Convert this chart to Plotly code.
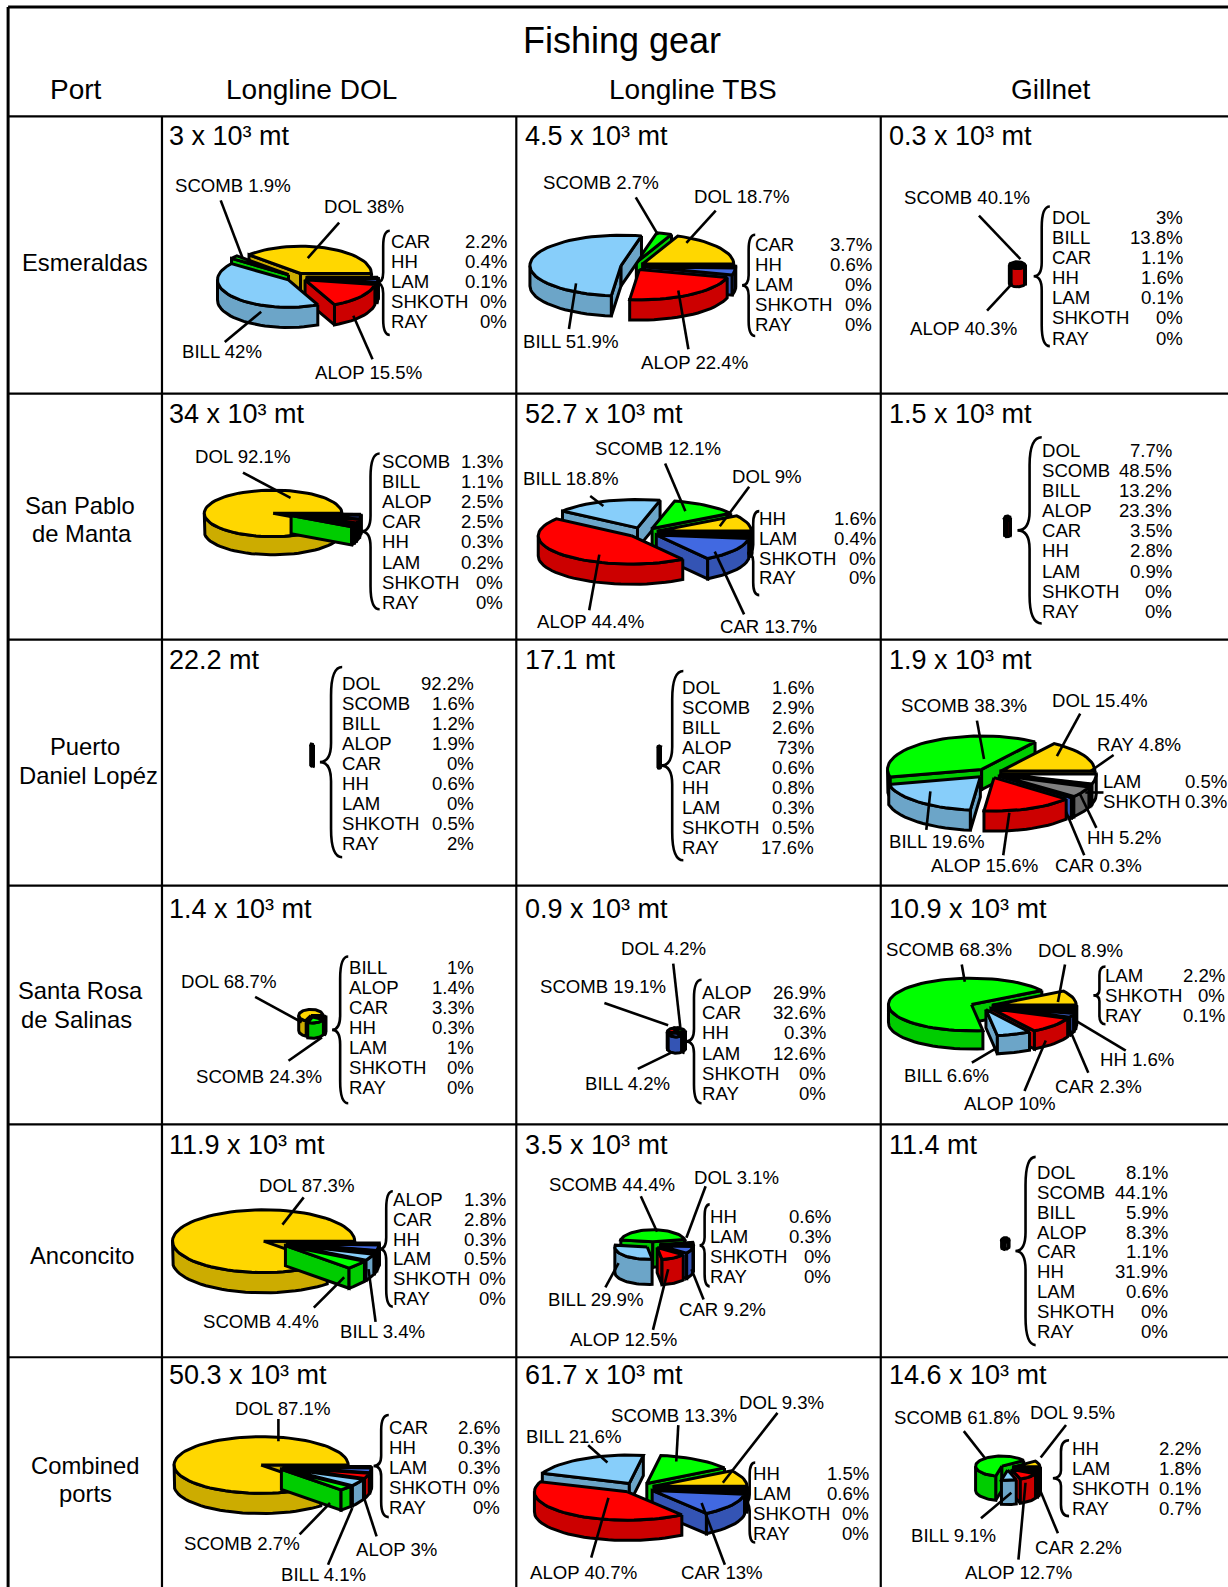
import math
import plotly.graph_objects as go

SPECIES = ["DOL", "SCOMB", "BILL", "ALOP", "CAR", "HH", "LAM", "SHKOTH", "RAY"]
GEARS = ["Longline DOL", "Longline TBS", "Gillnet"]
PORT_LINES = ["Esmeraldas", "San Pablo", "de Manta", "Puerto", "Daniel Lopéz", "Santa Rosa", "de Salinas", "Anconcito", "Combined", "ports"]

# percent catch by species, one row per port
LONGLINE_DOL = [
    [38, 1.9, 42, 15.5, 2.2, 0.4, 0.1, 0, 0],
    [92.1, 1.3, 1.1, 2.5, 2.5, 0.3, 0.2, 0, 0],
    [92.2, 1.6, 1.2, 1.9, 0, 0.6, 0, 0.5, 2],
    [68.7, 24.3, 1, 1.4, 3.3, 0.3, 1, 0, 0],
    [87.3, 4.4, 3.4, 1.3, 2.8, 0.3, 0.5, 0, 0],
    [87.1, 2.7, 4.1, 3, 2.6, 0.3, 0.3, 0, 0],
]
LONGLINE_TBS = [
    [18.7, 2.7, 51.9, 22.4, 3.7, 0.6, 0, 0, 0],
    [9, 12.1, 18.8, 44.4, 13.7, 1.6, 0.4, 0, 0],
    [1.6, 2.9, 2.6, 73, 0.6, 0.8, 0.3, 0.5, 17.6],
    [4.2, 19.1, 4.2, 26.9, 32.6, 0.3, 12.6, 0, 0],
    [3.1, 44.4, 29.9, 12.5, 9.2, 0.6, 0.3, 0, 0],
    [9.3, 13.3, 21.6, 40.7, 13, 1.5, 0.6, 0, 0],
]
GILLNET = [
    [3, 40.1, 13.8, 40.3, 1.1, 1.6, 0.1, 0, 0],
    [7.7, 48.5, 13.2, 23.3, 3.5, 2.8, 0.9, 0, 0],
    [15.4, 38.3, 19.6, 15.6, 0.3, 5.2, 0.5, 0.3, 4.8],
    [8.9, 68.3, 6.6, 10, 2.3, 1.6, 2.2, 0, 0.1],
    [8.1, 44.1, 5.9, 8.3, 1.1, 31.9, 0.6, 0, 0],
    [9.5, 61.8, 9.1, 12.7, 2.2, 2.2, 1.8, 0.1, 0.7],
]
TOTALS = [
    ["3 x 10³ mt", "4.5 x 10³ mt", "0.3 x 10³ mt"],
    ["34 x 10³ mt", "52.7 x 10³ mt", "1.5 x 10³ mt"],
    ["22.2 mt", "17.1 mt", "1.9 x 10³ mt"],
    ["1.4 x 10³ mt", "0.9 x 10³ mt", "10.9 x 10³ mt"],
    ["11.9 x 10³ mt", "3.5 x 10³ mt", "11.4 mt"],
    ["50.3 x 10³ mt", "61.7 x 10³ mt", "14.6 x 10³ mt"],
]
VALUES = [LONGLINE_DOL, LONGLINE_TBS, GILLNET]

# ---------- styling and placement (separate from data) ----------
TOP = {"DOL": "#FFD700", "SCOMB": "#00FF00", "BILL": "#87CEFA", "ALOP": "#FF0000", "CAR": "#4169E1",
       "HH": "#808080", "LAM": "#000000", "SHKOTH": "#000000", "RAY": "#FFFFFF"}
SIDE = {"DOL": "#CCAC00", "SCOMB": "#00CC00", "BILL": "#6CA5C8", "ALOP": "#CC0000", "CAR": "#3454B4",
        "HH": "#666666", "LAM": "#000000", "SHKOTH": "#000000", "RAY": "#CCCCCC"}
COL_X = [8, 160, 510, 870]
ROW_Y = [7, 115, 389, 632, 875, 1111, 1341]
TITLE_X = [166, 518, 877]
TITLE_Y = [134, 409, 652, 898, 1131, 1359]
PORT_POS = [(84, 259), (79, 499), (81, 527), (84, 738), (87, 766), (80, 979), (76, 1007), (81, 1240), (84, 1448), (84, 1476)]
LABEL_SIZE = 18.6
PIE_LINE = 3.0

# pie geometry per (row, col): cx, cy, rx, ry, depth, explode
PIES = {
    (0, 0): (293, 274, 70, 27, 20, .15), (0, 1): (625, 263, 90, 30, 20, .13), (0, 2): (1005, 262, 7, 3, 18, .14),
    (1, 0): (279, 508, 68, 23, 18, .14), (1, 1): (635, 526, 92, 28, 20, .17), (1, 2): (995, 512, 2.5, 2, 16, .14),
    (2, 0): (308, 736, 1, 1, 20, .1), (2, 1): (651, 738, 1, 1, 20, .1), (2, 2): (977, 764, 93, 33, 20, .14),
    (3, 0): (308, 1004, 12, 6, 15, .14), (3, 1): (668, 1020, 8, 4, 16, .14), (3, 2): (970, 994, 82, 26, 18, .14),
    (4, 0): (272, 1228, 90, 31, 20, .14), (4, 1): (645, 1230, 32, 12, 25, .25), (4, 2): (993, 1225, 3, 2, 7, .14),
    (5, 0): (269, 1449, 86, 28, 20, .14), (5, 1): (630, 1470, 92, 28, 20, .18), (5, 2): (995, 1450, 26, 10, 24, .25),
}
# callouts: species, text left x, text y, leader x0, y0, x1, y1
CALLOUTS = {
    (0, 0): [("SCOMB", 172, 183, 218, 198, 240, 256), ("DOL", 319, 204, 335, 220, 304, 255), ("BILL", 179, 347, 222, 338, 258, 308), ("ALOP", 310, 368, 368, 355, 349, 312)],
    (0, 1): [("SCOMB", 535, 180, 628, 195, 650, 232), ("DOL", 685, 194, 707, 208, 678, 240), ("BILL", 516, 337, 562, 325, 569, 280), ("ALOP", 632, 358, 680, 345, 670, 287)],
    (0, 2): [("SCOMB", 892, 195, 967, 213, 1008, 256), ("ALOP", 898, 325, 975, 307, 1000, 280)],
    (1, 0): [("DOL", 192, 451, 240, 467, 287, 492)],
    (1, 1): [("SCOMB", 587, 443, 657, 458, 677, 505), ("BILL", 516, 473, 583, 490, 596, 500), ("DOL", 722, 471, 740, 481, 711, 520), ("ALOP", 529, 614, 582, 603, 592, 548), ("CAR", 710, 619, 735, 607, 706, 545)],
    (2, 2): [("SCOMB", 889, 697, 965, 712, 972, 750), ("DOL", 1038, 692, 1067, 705, 1044, 747), ("RAY", 1083, 736, 1100, 746, 1077, 762), ("HH", 1073, 827, 1083, 818, 1067, 785), ("ALOP", 919, 855, 991, 845, 997, 803), ("CAR", 1041, 855, 1071, 845, 1053, 802), ("BILL", 877, 831, 915, 820, 919, 782)],
    (3, 0): [("DOL", 178, 970, 252, 985, 298, 1010), ("SCOMB", 193, 1064, 285, 1048, 318, 1025)],
    (3, 1): [("DOL", 612, 937, 665, 952, 672, 1015), ("SCOMB", 532, 975, 597, 991, 660, 1013), ("BILL", 577, 1071, 630, 1056, 663, 1040)],
    (3, 2): [("SCOMB", 874, 938, 950, 953, 953, 970), ("DOL", 1024, 939, 1052, 953, 1045, 990), ("HH", 1086, 1047, 1112, 1038, 1060, 1007), ("CAR", 1041, 1073, 1075, 1060, 1057, 1018), ("ALOP", 951, 1090, 1012, 1078, 1033, 1028), ("BILL", 892, 1063, 960, 1050, 985, 1035)],
    (4, 0): [("DOL", 255, 1171, 300, 1183, 279, 1210), ("SCOMB", 200, 1306, 310, 1292, 340, 1262), ("BILL", 335, 1316, 371, 1306, 364, 1254)],
    (4, 1): [("SCOMB", 541, 1170, 633, 1182, 649, 1217), ("DOL", 685, 1163, 697, 1172, 678, 1223), ("BILL", 540, 1284, 598, 1272, 611, 1248), ("CAR", 670, 1294, 695, 1284, 683, 1254), ("ALOP", 562, 1323, 645, 1314, 660, 1254)],
    (5, 0): [("DOL", 231, 1392, 275, 1402, 275, 1424), ("SCOMB", 181, 1525, 296, 1516, 326, 1485), ("BILL", 277, 1556, 324, 1546, 348, 1490), ("ALOP", 351, 1531, 372, 1518, 359, 1478)],
    (5, 1): [("SCOMB", 603, 1399, 670, 1408, 668, 1444), ("BILL", 519, 1419, 581, 1428, 600, 1445), ("DOL", 729, 1386, 768, 1396, 714, 1465), ("ALOP", 523, 1554, 584, 1539, 601, 1480), ("CAR", 672, 1554, 716, 1546, 693, 1485)],
    (5, 2): [("SCOMB", 882, 1401, 952, 1414, 974, 1442), ("DOL", 1016, 1396, 1053, 1408, 1028, 1440), ("BILL", 899, 1517, 969, 1500, 999, 1475), ("CAR", 1021, 1529, 1045, 1515, 1028, 1474), ("ALOP", 952, 1554, 1006, 1541, 1013, 1465)],
}
# side lists: species, name x, value right x, first y, last y, brace x0, x1, y0, y1
ALL9 = SPECIES
LISTS = {
    (0, 0): (["CAR", "HH", "LAM", "SHKOTH", "RAY"], 385, 502, 239, 318, 372, 385, 228, 331),
    (0, 1): (["CAR", "HH", "LAM", "SHKOTH", "RAY"], 745, 862, 242, 321, 733, 746, 232, 332),
    (0, 2): (["DOL", "BILL", "CAR", "HH", "LAM", "SHKOTH", "RAY"], 1038, 1170, 215, 334, 1021, 1037, 204, 342),
    (1, 0): (["SCOMB", "BILL", "ALOP", "CAR", "HH", "LAM", "SHKOTH", "RAY"], 376, 498, 456, 595, 357, 375, 448, 602),
    (1, 1): (["HH", "LAM", "SHKOTH", "RAY"], 749, 866, 512, 571, 738, 750, 505, 588),
    (1, 2): (ALL9, 1028, 1159, 445, 604, 1005, 1029, 432, 616),
    (2, 0): (ALL9, 337, 469, 675, 833, 316, 338, 659, 847),
    (2, 1): (ALL9, 673, 805, 679, 837, 653, 675, 663, 850),
    (3, 0): (["BILL", "ALOP", "CAR", "HH", "LAM", "SHKOTH", "RAY"], 344, 469, 956, 1074, 328, 344, 945, 1090),
    (3, 1): (["ALOP", "CAR", "HH", "LAM", "SHKOTH", "RAY"], 692, 817, 981, 1080, 678, 693, 968, 1090),
    (3, 2): (["LAM", "SHKOTH", "RAY"], 1091, 1211, 964, 1003, 1080, 1092, 955, 1012),
    (4, 0): (["ALOP", "CAR", "HH", "LAM", "SHKOTH", "RAY"], 387, 501, 1185, 1283, 375, 388, 1177, 1291),
    (4, 1): (["HH", "LAM", "SHKOTH", "RAY"], 700, 822, 1202, 1261, 691, 701, 1190, 1271),
    (4, 2): (ALL9, 1023, 1155, 1158, 1316, 1003, 1023, 1143, 1329),
    (5, 0): (["CAR", "HH", "LAM", "SHKOTH", "RAY"], 383, 495, 1410, 1489, 369, 384, 1398, 1499),
    (5, 1): (["HH", "LAM", "SHKOTH", "RAY"], 743, 859, 1456, 1515, 735, 746, 1445, 1524),
    (5, 2): (["HH", "LAM", "SHKOTH", "RAY"], 1058, 1187, 1431, 1490, 1040, 1056, 1423, 1498),
    (2, 2): (["LAM", "SHKOTH"], 1089, 1213, 772, 792, None, None, None, None),
}
EXTRA_LEADERS = [(1072, 783, 1090, 783)]

fig = go.Figure()
annotations, shapes = [], []
LINE = dict(color="black", width=2.6)


def poly(points, fill):
    xs = [p[0] for p in points] + [points[0][0]]
    ys = [p[1] for p in points] + [points[0][1]]
    fig.add_trace(go.Scatter(x=xs, y=ys, mode="lines", fill="toself", fillcolor=fill,
                             line=dict(color="black", width=PIE_LINE), hoverinfo="skip", showlegend=False))


def extrude(points, depth, fill):
    poly(points + [(x, y + depth) for x, y in reversed(points)], fill)


def draw_pie(values, cx, cy, rx, ry, depth, ex):
    """Exploded elliptical 3D pie: clockwise from 3 o'clock, listed species order reversed."""
    total = sum(values)
    order = list(range(len(SPECIES) - 1, -1, -1))
    start = 0.0
    slices = []
    for i in order:
        v = values[i]
        if v <= 0:
            continue
        a0 = start
        a1 = start + 360 * v / total
        start = a1
        slices.append((i, a0, a1))
    built = []
    for i, a0, a1 in slices:
        mid = math.radians((a0 + a1) / 2)
        ax = cx + ex * rx * math.cos(mid)
        ay = cy + ex * ry * math.sin(mid)
        n = max(2, int((a1 - a0) / 4) + 2)
        arc = []
        for k in range(n):
            t = math.radians(a0 + (a1 - a0) * k / (n - 1))
            arc.append((ax + rx * math.cos(t), ay + ry * math.sin(t)))
        built.append((ay + ry * 0.6 * math.sin(mid), i, (ax, ay), arc))
    for _, i, apex, arc in sorted(built, key=lambda b: b[0]):
        name = SPECIES[i]
        if arc[0][0] < apex[0]:
            extrude([apex, arc[0]], depth, SIDE[name])
        if apex[0] < arc[-1][0]:
            extrude([arc[-1], apex], depth, SIDE[name])
        strip = []
        for p, q in zip(arc, arc[1:]):
            if q[0] < p[0]:
                strip = strip or [p]
                strip.append(q)
            elif strip:
                extrude(strip, depth, SIDE[name])
                strip = []
        if strip:
            extrude(strip, depth, SIDE[name])
        poly([apex] + arc, TOP[name])


def text(x, y, s, size=LABEL_SIZE, anchor="left"):
    annotations.append(dict(x=x, y=y, text=s, showarrow=False, xanchor=anchor, yanchor="middle",
                            xref="x", yref="y", align="center", borderpad=0,
                            font=dict(family="Liberation Sans, Arial, sans-serif", size=size, color="black")))


def brace(x0, x1, y0, y1):
    m = (y0 + y1) / 2
    xm = (x0 + x1) / 2
    path = (f"M {x1} {y0} Q {xm} {y0} {xm} {y0 + (m - y0) * .3} L {xm} {m - (m - y0) * .2} "
            f"Q {xm} {m} {x0} {m} Q {xm} {m} {xm} {m + (y1 - m) * .2} L {xm} {y1 - (y1 - m) * .3} "
            f"Q {xm} {y1} {x1} {y1}")
    shapes.append(dict(type="path", path=path, xref="x", yref="y", line=dict(color="black", width=2.6), layer="above"))


for r in range(6):
    for c in range(3):
        vals = VALUES[c][r]
        draw_pie(vals, *PIES[(r, c)])
        text(TITLE_X[c], TITLE_Y[r], TOTALS[r][c], size=27)
        for sp, tx, ty, x0, y0, x1, y1 in CALLOUTS.get((r, c), []):
            text(tx, ty, f"{sp} {vals[SPECIES.index(sp)]:g}%")
            fig.add_trace(go.Scatter(x=[x0, x1], y=[y0, y1], mode="lines", line=LINE,
                                     hoverinfo="skip", showlegend=False))
        if (r, c) in LISTS:
            names, nx, vx, ya, yb, bx0, bx1, by0, by1 = LISTS[(r, c)]
            step = (yb - ya) / max(1, len(names) - 1)
            for k, sp in enumerate(names):
                y = ya + k * step
                text(nx, y, sp)
                text(vx, y, f"{vals[SPECIES.index(sp)]:g}%", anchor="right")
            if bx0 is not None:
                brace(bx0, bx1, by0, by1)

for x0, y0, x1, y1 in EXTRA_LEADERS:
    fig.add_trace(go.Scatter(x=[x0, x1], y=[y0, y1], mode="lines", line=LINE, hoverinfo="skip", showlegend=False))

# table rules
W = 1213
H = 1568
for i, y in enumerate(ROW_Y):
    shapes.append(dict(type="line", x0=COL_X[0], x1=W, y0=y, y1=y, xref="x", yref="y",
                       line=dict(color="black", width=3 if i == 0 else 2.2)))
for i, x in enumerate(COL_X):
    shapes.append(dict(type="line", x0=x, x1=x, y0=ROW_Y[0] if i == 0 else ROW_Y[1], y1=H, xref="x", yref="y",
                       line=dict(color="black", width=3 if i == 0 else 2.2)))

text(614, 40, "Fishing gear", size=36, anchor="center")
text(75, 88, "Port", size=28, anchor="center")
for x, g in zip([308, 685, 1038], GEARS):
    text(x, 88, g, size=28, anchor="center")
for (x, y), p in zip(PORT_POS, PORT_LINES):
    text(x, y, p, size=23.8, anchor="center")

fig.update_layout(
    width=1228, height=1587, margin=dict(l=0, r=0, t=0, b=0),
    paper_bgcolor="white", plot_bgcolor="white", showlegend=False,
    xaxis=dict(range=[0, W], visible=False, fixedrange=True),
    yaxis=dict(range=[H, 0], visible=False, fixedrange=True),
    annotations=annotations, shapes=shapes,
)
fig.write_html("out.html", config=dict(displayModeBar=False),
               post_script="document.body.style.margin='0';document.documentElement.style.overflow='hidden';")
